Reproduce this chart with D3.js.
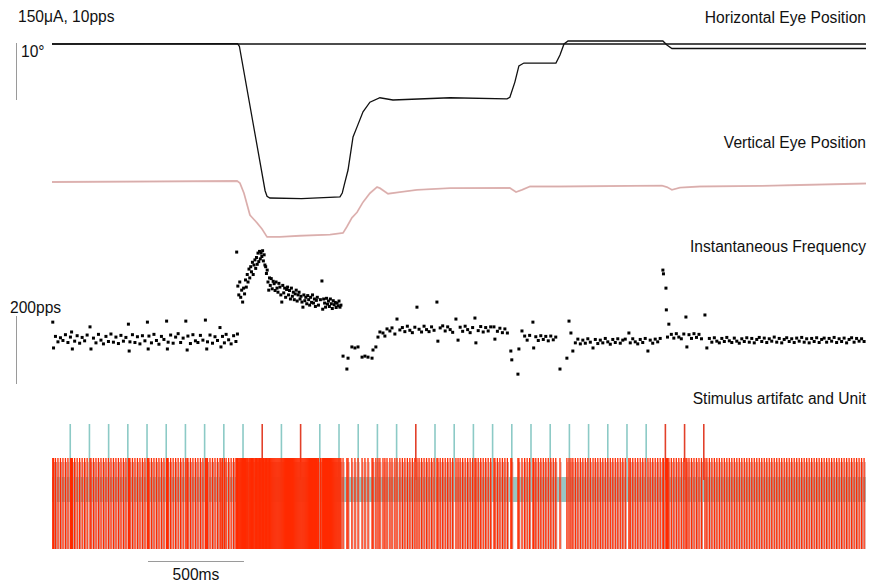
<!DOCTYPE html>
<html>
<head>
<meta charset="utf-8">
<script src="https://cdn.jsdelivr.net/npm/d3@7"></script>
<style>
  body { margin: 0; background: #fff; }
  text { font-family: "Liberation Sans", Arial, Helvetica, sans-serif; font-size: 15.6px; fill: #111; }
</style>
</head>
<body>
<div id="chart"></div>
<script>
// time in ms, eye position in degrees, frequency in pps
const hEyeRef = [[0, 0], [4240, 0]];
const hEye = [[0, 0], [966, 0.05], [976, -0.4], [1110, -26.2], [1120, -27.2], [1135, -27.5], [1300, -27.6], [1500, -27.3],
  [1512, -26.6], [1522, -25.2], [1542, -22.5], [1568, -16.6], [1589, -14.8], [1620, -12.1], [1656, -10.4], [1708, -9.6],
  [1776, -10.0], [2073, -9.6], [2370, -9.8], [2385, -9.5], [2411, -6.8], [2432, -3.9], [2458, -3.4], [2625, -3.4],
  [2646, -1.96], [2667, 0], [2688, 0.54], [3182, 0.54], [3203, -0.18], [3229, -0.8], [4240, -0.8]];
const vEye = [[0, 0], [510, 0.09], [964, 0.18], [979, -0.2], [1000, -2.0], [1031, -5.9], [1068, -7.3], [1094, -8.4],
  [1120, -9.8], [1187, -9.8], [1292, -9.6], [1448, -9.4], [1516, -9.1], [1536, -8.0], [1562, -6.4], [1589, -5.4],
  [1620, -3.6], [1656, -2.0], [1693, -0.9], [1708, -1.1], [1750, -2.1], [1812, -1.8], [1901, -1.4], [2073, -1.1],
  [2359, -1.07], [2385, -1.07], [2417, -1.8], [2448, -1.4], [2490, -0.8], [2646, -0.8], [3177, -0.63], [3203, -0.9],
  [3229, -1.4], [3271, -1.0], [3375, -0.8], [3687, -0.7], [3896, -0.54], [4240, -0.27]];

const preT = [4, 8, 18, 31, 44, 57, 70, 83, 96, 102, 106, 118, 131, 144, 157, 170, 183, 198, 203, 216, 229, 242, 255, 268, 281, 294,
  307, 320, 333, 346, 359, 372, 385, 398, 402, 406, 419, 432, 445, 458, 471, 484, 497, 501, 505, 518, 531, 544, 557, 570, 583,
  597, 601, 605, 618, 631, 644, 657, 670, 683, 697, 704, 708, 721, 734, 747, 760, 773, 786, 799, 806, 810, 823, 836, 849, 862,
  875, 880, 888, 898, 907, 920, 933, 946, 958, 966];
const preF = [182, 106, 140, 124, 136, 128, 145, 122, 138, 153, 103, 126, 142, 120, 137, 127, 144, 168, 103, 135, 121, 146, 129, 118, 140, 125,
  147, 123, 138, 119, 143, 126, 137, 176, 97, 124, 145, 122, 139, 118, 142, 127, 182, 103, 141, 121, 146, 128, 117, 140, 131,
  185, 103, 123, 144, 120, 138, 148, 122, 135, 185, 100, 141, 119, 145, 127, 122, 143, 129, 188, 103, 124, 144, 120, 139, 128,
  166, 109, 140, 121, 146, 130, 118, 142, 125, 147];

const burstT = [962, 968, 973, 978, 983, 988, 993, 998, 1003, 1008, 1012, 1017, 1021, 1026, 1030, 1035, 1039, 1044, 1048, 1052,
  1057, 1061, 1065, 1069, 1073, 1077, 1081, 1085, 1089, 1093, 1097, 1101, 1105, 1109, 1113, 1117, 1121, 1125, 1129, 1133,
  1137, 1142, 1147, 1152, 1157, 1162, 1167, 1172, 1177, 1182, 1187, 1192, 1197, 1202, 1207, 1212, 1217, 1222, 1227, 1232,
  1237, 1242, 1247, 1252, 1257, 1262, 1267, 1272, 1277, 1282, 1287, 1292, 1297, 1302, 1307, 1312, 1317, 1322, 1327, 1332,
  1337, 1342, 1347, 1352, 1357, 1362, 1367, 1372, 1377, 1382, 1388, 1398, 1406, 1410, 1415, 1420, 1425, 1430, 1435, 1440,
  1445, 1450, 1455, 1460, 1465, 1470, 1475, 1480, 1485, 1490, 1495, 1500, 1505];
const burstF = [388, 288, 262, 300, 255, 276, 241, 282, 265, 306, 285, 322, 300, 338, 312, 345, 330, 358, 322, 350,
  365, 340, 372, 352, 385, 360, 390, 368, 385, 375, 392, 362, 380, 350, 345, 325, 335, 300, 276, 312,
  290, 310, 280, 302, 295, 275, 300, 282, 270, 296, 285, 262, 241, 290, 268, 282, 255, 278, 285, 262,
  275, 250, 282, 258, 270, 248, 265, 276, 244, 262, 270, 250, 258, 241, 226, 262, 245, 255, 236, 260,
  248, 232, 255, 240, 262, 238, 250, 228, 246, 255, 232, 248, 303, 220, 250, 238, 226, 252, 235, 244,
  228, 250, 236, 222, 245, 233, 240, 225, 238, 230, 244, 226, 232];

const postPts = [[1516, 82], [1536, 44], [1542, 76], [1562, 109], [1578, 106], [1594, 109], [1615, 79], [1630, 82], [1646, 79],
  [1667, 76], [1672, 100], [1687, 109], [1698, 138], [1708, 153], [1724, 150], [1734, 141], [1745, 162], [1760, 156], [1771, 165],
  [1786, 147], [1797, 191], [1812, 159], [1825, 166], [1838, 154], [1851, 170], [1864, 158], [1877, 151], [1890, 167], [1901, 226],
  [1912, 161], [1925, 153], [1938, 170], [1951, 160], [1964, 154], [1977, 168], [1990, 158], [2005, 241], [2010, 126], [2022, 165],
  [2035, 171], [2048, 156], [2061, 168], [2074, 160], [2087, 152], [2104, 191], [2115, 129], [2126, 167], [2139, 155], [2152, 170],
  [2165, 160], [2178, 151], [2191, 166], [2203, 194], [2208, 121], [2220, 157], [2233, 169], [2246, 153], [2259, 166], [2272, 156],
  [2285, 168], [2302, 168], [2307, 132], [2320, 155], [2333, 164], [2346, 151], [2359, 162], [2372, 150],
  [2390, 97], [2395, 71], [2427, 29], [2432, 103], [2448, 156],
  [2462, 141], [2475, 129], [2488, 143], [2505, 182], [2509, 106], [2520, 139], [2533, 128], [2546, 142], [2559, 131], [2572, 140],
  [2585, 127], [2598, 141], [2611, 130], [2624, 138], [2646, 44], [2682, 76], [2693, 185], [2703, 150], [2713, 97],
  [2726, 121], [2739, 132], [2752, 118], [2765, 129], [2778, 120], [2791, 133], [2804, 123], [2818, 106], [2830, 131], [2843, 119],
  [2856, 129], [2869, 121], [2882, 134], [2895, 124], [2908, 117], [2921, 131], [2934, 122], [2947, 133], [2960, 120], [2973, 129],
  [2986, 132], [3005, 150], [3012, 121], [3025, 133], [3038, 124], [3051, 118], [3064, 131], [3077, 122], [3090, 134], [3104, 97],
  [3116, 129], [3129, 120], [3142, 132], [3155, 124], [3168, 134],
  [3182, 335], [3185, 324], [3198, 282], [3200, 218], [3206, 138], [3213, 176],
  [3226, 146], [3239, 135], [3252, 148], [3265, 138], [3278, 133], [3291, 147], [3302, 197], [3307, 109], [3318, 145], [3331, 134],
  [3344, 148], [3357, 137], [3370, 146], [3383, 133], [3401, 203], [3411, 106],
  [3424, 134], [3437, 123], [3450, 136], [3463, 126], [3476, 121], [3489, 134], [3502, 125], [3515, 137], [3528, 127], [3541, 122],
  [3554, 135], [3567, 126], [3580, 120], [3593, 133], [3606, 125], [3619, 136], [3632, 123], [3645, 134], [3658, 121], [3671, 131],
  [3684, 137], [3697, 125], [3710, 135], [3723, 122], [3736, 133], [3749, 126], [3762, 138], [3775, 123], [3788, 134], [3801, 121],
  [3814, 131], [3827, 136], [3840, 125], [3853, 133], [3866, 122], [3879, 135], [3892, 126], [3905, 137], [3918, 123], [3931, 133],
  [3944, 121], [3957, 134], [3970, 125], [3983, 136], [3996, 122], [4009, 131], [4022, 135], [4035, 123], [4048, 134], [4061, 126],
  [4074, 137], [4087, 122], [4100, 133], [4113, 125], [4126, 135], [4139, 121], [4152, 131], [4165, 136], [4178, 123], [4191, 134],
  [4204, 126], [4217, 133], [4230, 125]];

const stimT = [95, 195, 295, 395, 495, 595, 695, 795, 895, 995, 1095, 1195, 1295, 1395, 1495, 1595, 1695, 1795, 1895, 1995,
  2095, 2195, 2295, 2395, 2495, 2595, 2695, 2795, 2895, 2995, 3095, 3195, 3295, 3395];
const stimHit = [1095, 1295, 1895, 3195, 3295, 3395];

const width = 870;
const height = 582;

const spikes = [
  ...preT.map((t, i) => ({ t, f: preF[i] })),
  ...burstT.map((t, i) => ({ t, f: burstF[i] })),
  ...postPts.map(([t, f]) => ({ t, f }))
];

const x = d3.scaleLinear().domain([0, 4240]).range([52, 866]);
const hY = d3.scaleLinear().domain([0, -10]).range([44, 100]);
const vY = d3.scaleLinear().domain([0, -10]).range([182, 238]);
const fY = d3.scaleLinear().domain([0, 200]).range([384, 316]);

const svg = d3.select('#chart')
  .append('svg')
  .attr('width', width)
  .attr('height', height);

const label = (tx, ty, s, anchor) => svg.append('text')
  .attr('x', tx).attr('y', ty)
  .attr('text-anchor', anchor || 'start')
  .text(s);

// titles
label(18, 22, '150\u03bcA, 10pps');
label(866, 23, 'Horizontal Eye Position', 'end');
label(866, 148, 'Vertical Eye Position', 'end');
label(866, 252, 'Instantaneous Frequency', 'end');
label(866, 404, 'Stimulus artifatc and Unit', 'end');

// scale bars
const bar = (x1, y1, x2, y2) => svg.append('line')
  .attr('x1', x1).attr('y1', y1).attr('x2', x2).attr('y2', y2)
  .attr('stroke', '#9a9a9a').attr('stroke-width', 1);
bar(16.5, hY(0) - 1, 16.5, hY(-10));
label(21, 57, '10\u00b0');
bar(16.5, fY(200), 16.5, fY(0));
label(10, 313, '200pps');
bar(x(500), 561.5, x(1000), 561.5);
label((x(500) + x(1000)) / 2, 580, '500ms', 'middle');

// eye traces
const hLine = d3.line().x((d) => x(d[0])).y((d) => hY(d[1]));
const vLine = d3.line().x((d) => x(d[0])).y((d) => vY(d[1]));

svg.append('path').datum(hEyeRef)
  .attr('d', hLine).attr('fill', 'none').attr('stroke', '#111').attr('stroke-width', 1.5);
svg.append('path').datum(hEye)
  .attr('d', hLine).attr('fill', 'none').attr('stroke', '#111').attr('stroke-width', 1.3);
svg.append('path').datum(vEye)
  .attr('d', vLine).attr('fill', 'none').attr('stroke', '#e6b9b7').attr('stroke-width', 1.8);
svg.append('path').datum(vEye)
  .attr('d', vLine).attr('fill', 'none').attr('stroke', '#c4a0a0').attr('stroke-width', 0.5);

// instantaneous frequency
svg.append('g')
  .selectAll('rect')
  .data(spikes)
  .join('rect')
  .attr('x', (d) => x(d.t) - 1.5)
  .attr('y', (d) => fY(d.f) - 1.5)
  .attr('width', 3)
  .attr('height', 3)
  .attr('fill', '#000');

// stimulus artifact and unit
const unit = svg.append('g');
unit.append('rect')
  .attr('x', x(0)).attr('y', 477)
  .attr('width', x(4240) - x(0)).attr('height', 25)
  .attr('fill', '#98c6c3');

unit.append('g')
  .selectAll('line')
  .data(stimT)
  .join('line')
  .attr('x1', (d) => x(d)).attr('x2', (d) => x(d))
  .attr('y1', 424).attr('y2', 480)
  .attr('stroke', (d) => (stimHit.includes(d) ? '#e2402a' : '#8ccac6'))
  .attr('stroke-width', 1.6);

unit.append('g')
  .selectAll('line')
  .data(spikes)
  .join('line')
  .attr('x1', (d) => x(d.t) + 1).attr('x2', (d) => x(d.t) + 1)
  .attr('y1', 462).attr('y2', 549)
  .attr('stroke', '#c9918a')
  .attr('stroke-width', 1);

unit.append('g')
  .selectAll('line')
  .data(spikes)
  .join('line')
  .attr('x1', (d) => x(d.t)).attr('x2', (d) => x(d.t))
  .attr('y1', 458).attr('y2', 549)
  .attr('stroke', '#ff2a00')
  .attr('stroke-width', 1.3);
</script>
</body>
</html>
